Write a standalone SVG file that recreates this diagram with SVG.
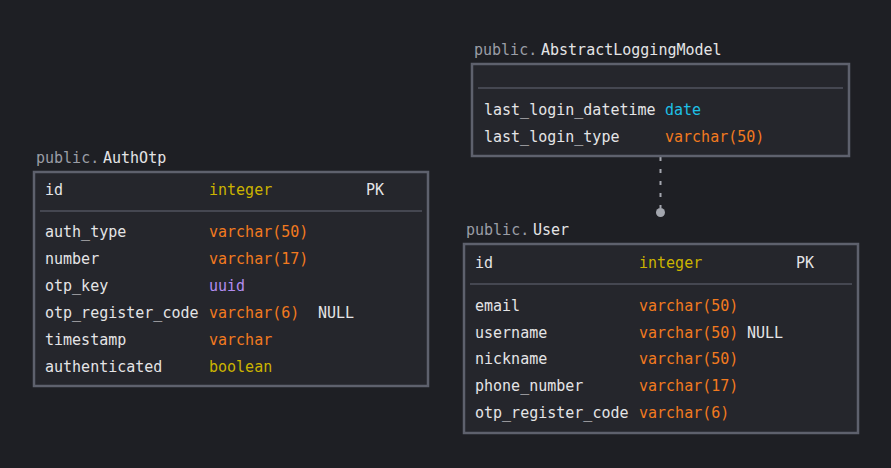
<svg xmlns="http://www.w3.org/2000/svg" width="891" height="468" viewBox="0 0 891 468">
<style>
text{font-family:"DejaVu Sans Mono","Liberation Mono",monospace;font-size:15px;fill:#e4e4e6}
.sch{fill:#9a9da6}
.box{fill:#25262c;stroke:#5e616d;stroke-width:2.5}
.sep{stroke:#50535e;stroke-width:1.5}
.int{fill:#cbb400}
.vc{fill:#f27a1f}
.uu{fill:#b38cf0}
.dt{fill:#1ec0e6}
</style>
<rect width="891" height="468" fill="#1e1f24"/>
<g id="connectors">
<line x1="660.5" y1="157" x2="660.5" y2="208" stroke="#a3a6ae" stroke-width="2" stroke-dasharray="4,8"/>
<circle cx="660.5" cy="212.5" r="4.5" fill="#a3a6ae"/>
</g>
<g id="AbstractLoggingModel">
<text class="sch" x="474" y="55">public.</text><text x="541" y="55">AbstractLoggingModel</text>
<rect class="box" x="472" y="64" width="377" height="92"/>
<line class="sep" x1="478" y1="88" x2="843" y2="88"/>
<text x="484" y="115">last_login_datetime</text><text class="dt" x="665" y="115">date</text>
<text x="484" y="142">last_login_type</text><text class="vc" x="665" y="142">varchar(50)</text>
</g>
<g id="AuthOtp">
<text class="sch" x="36" y="163">public.</text><text x="103" y="163">AuthOtp</text>
<rect class="box" x="34" y="172" width="394" height="214"/>
<text x="45" y="195">id</text><text class="int" x="209" y="195">integer</text><text x="366" y="195">PK</text>
<line class="sep" x1="40" y1="211" x2="422" y2="211"/>
<text x="45" y="237">auth_type</text><text class="vc" x="209" y="237">varchar(50)</text>
<text x="45" y="264">number</text><text class="vc" x="209" y="264">varchar(17)</text>
<text x="45" y="291">otp_key</text><text class="uu" x="209" y="291">uuid</text>
<text x="45" y="318">otp_register_code</text><text class="vc" x="209" y="318">varchar(6)</text><text x="318" y="318">NULL</text>
<text x="45" y="345">timestamp</text><text class="vc" x="209" y="345">varchar</text>
<text x="45" y="372">authenticated</text><text class="int" x="209" y="372">boolean</text>
</g>
<g id="User">
<text class="sch" x="466" y="235">public.</text><text x="533" y="235">User</text>
<rect class="box" x="464" y="244" width="394" height="189"/>
<text x="475" y="268">id</text><text class="int" x="639" y="268">integer</text><text x="796" y="268">PK</text>
<line class="sep" x1="470" y1="284" x2="852" y2="284"/>
<text x="475" y="311">email</text><text class="vc" x="639" y="311">varchar(50)</text>
<text x="475" y="338">username</text><text class="vc" x="639" y="338">varchar(50)</text><text x="747" y="338">NULL</text>
<text x="475" y="364">nickname</text><text class="vc" x="639" y="364">varchar(50)</text>
<text x="475" y="391">phone_number</text><text class="vc" x="639" y="391">varchar(17)</text>
<text x="475" y="418">otp_register_code</text><text class="vc" x="639" y="418">varchar(6)</text>
</g>
</svg>
